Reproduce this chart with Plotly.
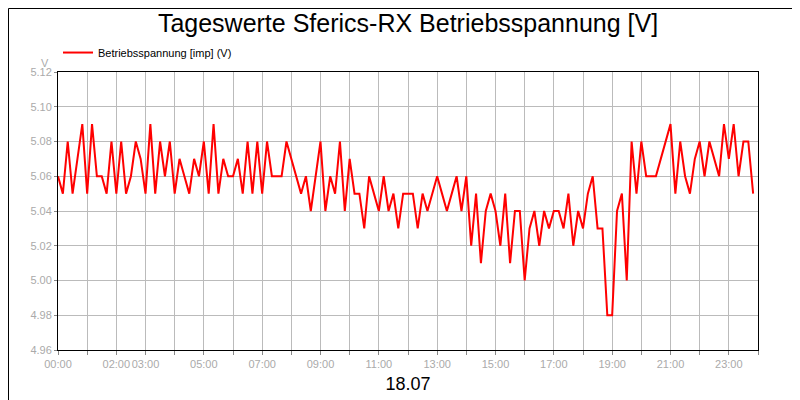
import plotly.graph_objects as go

# values every 10 minutes, one row per hour
volts = [
 5.06,5.05,5.08,5.05,5.07,5.09,
 5.05,5.09,5.06,5.06,5.05,5.08,
 5.05,5.08,5.05,5.06,5.08,5.07,
 5.05,5.09,5.05,5.08,5.06,5.08,
 5.05,5.07,5.06,5.05,5.07,5.06,
 5.08,5.05,5.09,5.05,5.07,5.06,
 5.06,5.07,5.05,5.08,5.05,5.08,
 5.05,5.08,5.06,5.06,5.06,5.08,
 5.07,5.06,5.05,5.06,5.04,5.06,
 5.08,5.04,5.06,5.05,5.08,5.04,
 5.07,5.05,5.05,5.03,5.06,5.05,
 5.04,5.06,5.04,5.05,5.03,5.05,
 5.05,5.05,5.03,5.05,5.04,5.05,
 5.06,5.05,5.04,5.05,5.06,5.04,
 5.06,5.02,5.05,5.01,5.04,5.05,
 5.04,5.02,5.05,5.01,5.04,5.04,
 5.00,5.03,5.04,5.02,5.04,5.03,
 5.04,5.04,5.03,5.05,5.02,5.04,
 5.03,5.05,5.06,5.03,5.03,4.98,
 4.98,5.04,5.05,5.00,5.08,5.05,
 5.08,5.06,5.06,5.06,5.07,5.08,
 5.09,5.05,5.08,5.06,5.05,5.07,
 5.08,5.06,5.08,5.07,5.06,5.09,
 5.07,5.09,5.06,5.08,5.08,5.05,
]
hours = [i / 6 for i in range(len(volts))]
tick_hours = list(range(25))
tick_labels = ["00:00","","02:00","03:00","","05:00","","07:00","","09:00","","11:00","",
               "13:00","","15:00","","17:00","","19:00","","21:00","","23:00",""]
y_ticks = [4.96,4.98,5.00,5.02,5.04,5.06,5.08,5.10,5.12]

fig = go.Figure(go.Scatter(x=hours, y=volts, mode="lines", name="Betriebsspannung [imp] (V)",
                           line=dict(color="#ff0000", width=2)))
fig.update_layout(
    width=800, height=400, paper_bgcolor="white", plot_bgcolor="white",
    margin=dict(l=50, r=50, t=64, b=58, autoexpand=False),
    font=dict(family="Liberation Sans, Arial", color="black"),
    title=dict(text="Tageswerte Sferics-RX Betriebsspannung [V]", x=0.5, xanchor="center",
               y=0.985, yanchor="top", font=dict(size=25)),
    showlegend=True,
    legend=dict(x=0.0, y=1.07, xanchor="left", yanchor="middle", font=dict(size=11),
                itemwidth=30, bgcolor="rgba(0,0,0,0)", tracegroupgap=0),
    xaxis=dict(range=[0, 24], tickvals=tick_hours, ticktext=tick_labels, showgrid=True,
               tickangle=0, automargin=False,
               gridcolor="#bbbbbb", tickfont=dict(color="#aaaaaa", size=11), ticks="outside",
               ticklen=4, tickcolor="#888", showline=True, linecolor="black", mirror=True,
               zeroline=False, title=dict(text="18.07", font=dict(size=18), standoff=8)),
    yaxis=dict(range=[4.96, 5.12], tickvals=y_ticks, tickformat=".2f", showgrid=True,
               automargin=False,
               gridcolor="#bbbbbb", tickfont=dict(color="#aaaaaa", size=11), ticks="outside",
               ticklen=3, tickcolor="#888", showline=True, linecolor="black", mirror=True,
               zeroline=False),
    annotations=[dict(text="V", xref="paper", yref="paper", x=-0.01, y=1.06, showarrow=False,
                      xanchor="right", font=dict(size=11, color="#aaaaaa"))],
    shapes=[dict(type="rect", xref="paper", yref="paper", x0=-49.5/700, x1=749.5/700,
                 y0=-57.5/278, y1=63.5/278 + 1, line=dict(color="black", width=1))],
)
fig.write_html("out.html")
